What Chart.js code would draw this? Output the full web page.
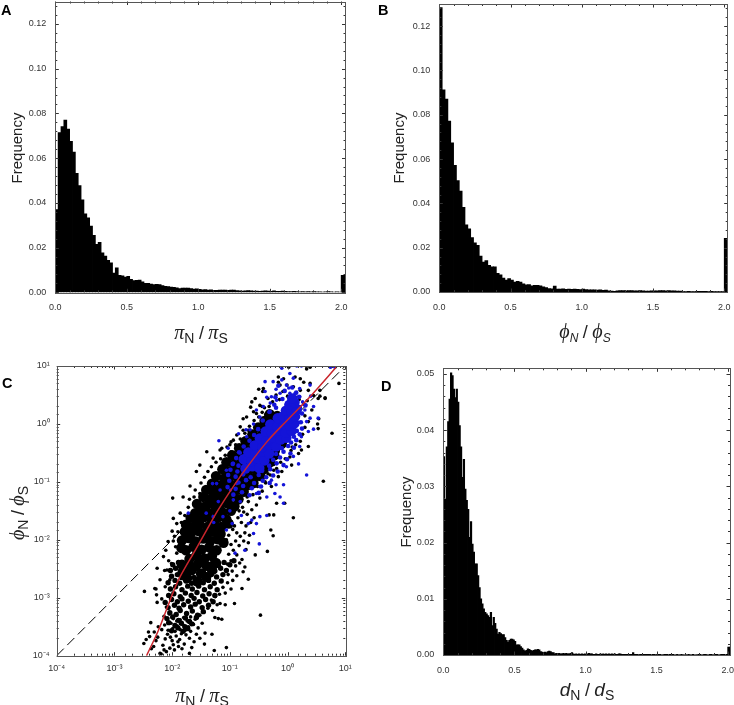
<!DOCTYPE html>
<html lang="en">
<head>
<meta charset="UTF-8">
<title>Frequency histograms and scatter</title>
<script src="https://cdn.jsdelivr.net/npm/chart.js"></script>
<style>
  body { margin: 0; background: #fff; font-family: 'Liberation Sans', sans-serif; color: #222; }
  #page { position: relative; width: 734px; height: 705px; overflow: hidden; }
  canvas { position: absolute; }
  .lab { position: absolute; white-space: nowrap; transform: translate(-50%, -50%); line-height: 1; }
  .panel { position: absolute; font-weight: bold; font-size: 14.5px; color: #000; line-height: 1; }
  .rot { transform: translate(-50%, -50%) rotate(-90deg); }
  .freq { font-size: 15px; }
  .gr { font-family: 'Liberation Serif', serif; font-style: italic; font-size: 20px; }
  .it { font-style: italic; font-size: 19px; }
  .sl { font-size: 18px; }
  sub { font-size: 14px; line-height: 0; vertical-align: -4px; }
  sub.i { font-style: italic; font-size: 12px; }
</style>
</head>
<body>
<div id="page">
  <canvas id="chartA" width="360" height="345" style="left:0;top:0"></canvas>
  <canvas id="chartB" width="364" height="345" style="left:370px;top:0"></canvas>
  <canvas id="chartC" width="360" height="355" style="left:0;top:350px"></canvas>
  <canvas id="chartD" width="364" height="350" style="left:370px;top:355px"></canvas>

  <div class="panel" style="left:1px;top:3px">A</div>
  <div class="panel" style="left:378px;top:3px">B</div>
  <div class="panel" style="left:2px;top:376px">C</div>
  <div class="panel" style="left:381px;top:379px">D</div>

  <div class="lab rot freq" style="left:16px;top:148px">Frequency</div>
  <div class="lab rot freq" style="left:398px;top:148px">Frequency</div>
  <div class="lab rot freq" style="left:405px;top:512px">Frequency</div>

  <div class="lab" style="left:201px;top:332px"><span class="gr">π</span><sub>N</sub> <span class="sl">/</span> <span class="gr">π</span><sub>S</sub></div>
  <div class="lab" style="left:585px;top:331px"><span class="gr">ϕ</span><sub class="i">N</sub> <span class="sl">/</span> <span class="gr">ϕ</span><sub class="i">S</sub></div>
  <div class="lab" style="left:202px;top:695px"><span class="gr">π</span><sub>N</sub> <span class="sl">/</span> <span class="gr">π</span><sub>S</sub></div>
  <div class="lab rot" style="left:17px;top:513px"><span class="gr">ϕ</span><sub>N</sub> <span class="sl">/</span> <span class="gr">ϕ</span><sub>S</sub></div>
  <div class="lab" style="left:587px;top:689px"><span class="it">d</span><sub>N</sub> <span class="sl">/</span> <span class="it">d</span><sub>S</sub></div>
</div>

<script>
// histogram A, bins of 0.02 from 0, last two entries are the >2 overflow bar
const histA = [
  .0370,.0714,.0741,.0770,.0729,.0675,.0626,.0532,.0477,.0413,
  .0351,.0333,.0296,.0254,.0214,.0223,.0176,.0162,.0143,.0131,
  .0086,.0109,.0076,.0073,.0068,.0071,.0058,.0052,.0053,.0054,
  .0047,.0040,.0040,.0036,.0034,.0035,.0034,.0030,.0026,.0025,
  .0023,.0022,.0020,.0016,.0019,.0018,.0018,.0016,.0014,.0015,
  .0013,.0011,.0012,.0010,.0011,.0009,.0009,.0010,.0010,.0010,
  .0009,.0010,.0010,.0007,.0006,.0005,.0006,.0007,.0006,.0005,
  .0005,.0004,.0005,.0006,.0005,.0004,.0006,.0004,.0004,.0005,
  .0004,.0003,.0003,.0004,.0003,.0002,.0003,.0002,.0003,.0002,
  .0003,.0002,.0002,.0001,.0002,.0003,.0002,.0001,.0002,.0001,
  .0075,.0075
];
const histB = [
  .1284,.0912,.0871,.0771,.0673,.0572,.0503,.0455,.0382,.0303,
  .0285,.0245,.0222,.0210,.0162,.0135,.0141,.0120,.0113,.0113,
  .0084,.0077,.0063,.0053,.0060,.0053,.0045,.0048,.0044,.0036,
  .0032,.0033,.0027,.0030,.0030,.0027,.0023,.0020,.0015,.0014,
  .0026,.0013,.0013,.0014,.0012,.0013,.0012,.0013,.0012,.0011,
  .0013,.0011,.0009,.0010,.0009,.0008,.0009,.0007,.0008,.0005,
  .0004,.0003,.0005,.0006,.0006,.0005,.0006,.0006,.0005,.0005,
  .0006,.0005,.0004,.0004,.0005,.0005,.0005,.0006,.0006,.0005,
  .0006,.0005,.0005,.0004,.0004,.0002,.0002,.0003,.0002,.0002,
  .0003,.0003,.0003,.0003,.0002,.0003,.0002,.0002,.0002,.0002,
  .0242,.0242
];
// histogram D, bins of 0.01
const histD = [
  .0353,.0277,.0370,.0415,.0455,.0502,.0497,.0473,.0458,.0473,
  .0450,.0408,.0370,.0316,.0348,.0295,.0275,.0259,.0209,.0237,
  .0197,.0183,.0162,.0162,.0141,.0120,.0100,.0091,.0082,.0076,
  .0073,.0070,.0067,.0076,.0052,.0067,.0056,.0046,.0037,.0040,
  .0038,.0036,.0036,.0031,.0026,.0023,.0026,.0028,.0028,.0027,
  .0024,.0018,.0018,.0018,.0015,.0012,.0009,.0007,.0008,.0011,
  .0010,.0008,.0007,.0008,.0009,.0009,.0010,.0009,.0006,.0005,
  .0004,.0005,.0004,.0006,.0007,.0006,.0004,.0004,.0002,.0003,
  .0002,.0003,.0002,.0002,.0003,.0002,.0003,.0002,.0002,.0003,
  .0004,.0002,.0001,.0002,.0001,.0002,.0001,.0002,.0001,.0002,
  .0001,.0002,.0003,.0002,.0002,.0001,.0001,.0002,.0001,.0001,
  .0002,.0001,.0002,.0001,.0002,.0001,.0002,.0001,.0002,.0001,
  .0002,.0001,.0001,.0002,.0002,.0001,.0001,.0001,.0001,.0001,
  .0001,.0001,.0001,.0004,.0001,.0001,.0001,0,.0001,.0001,
  .0001,.0001,.0001,.0001,.0001,.0001,0,.0001,.0001,0,
  .0001,.0001,.0001,0,0,.0001,.0001,.0001,0,.0001,
  0,.0001,0,0,.0001,0,0,.0001,0,0,
  0,0,.0001,0,0,.0001,0,0,0,.0001,
  .0001,0,0,.0001,.0001,0,0,.0001,.0001,0,
  0,.0001,.0001,0,0,.0001,.0001,.0001,0,.0001,
  .0014,.0014
];

const blackDots = [
  [-2.49,-3.79],[-2.21,-3.96],[-2.32,-3.84],[-2.19,-3.97],[-2.04,-3.87],[-1.89,-3.84],[-1.70,-3.96],[-1.70,-3.70],[-1.52,-3.70],[-1.43,-3.61],
  [-1.44,-3.80],[-1.27,-3.91],[-1.06,-3.86],[-1.31,-3.63],[-2.41,-3.59],[-2.39,-3.67],[-2.31,-3.59],[-2.45,-3.72],[-2.28,-3.74],[-2.36,-3.88],
  [-2.25,-3.68],[-2.16,-3.82],[-2.12,-3.71],[-2.08,-3.63],[-2.00,-3.74],[-1.96,-3.90],[-1.93,-3.66],[-1.87,-3.72],[-2.10,-3.93],[-1.84,-3.62],
  [-1.79,-3.80],[-1.98,-3.81],[-2.03,-3.68],[-1.90,-3.76],[-1.76,-3.64],[-2.14,-3.90],[-1.83,-3.88],[-1.62,-3.76],[-1.58,-3.63],[-1.66,-3.86],
  [-2.24,-3.50],[-2.37,-3.43],[-2.18,-3.55],[-2.13,-3.47],[-2.07,-3.56],[-2.02,-3.44],[-1.99,-3.53],[-1.95,-3.58],[-1.91,-3.49],[-1.86,-3.55],
  [-1.81,-3.47],[-1.77,-3.56],[-1.72,-3.50],[-1.68,-3.58],[-1.63,-3.46],[-1.55,-3.52],[-1.48,-3.44],[-1.26,-3.34],[-1.14,-3.37],[-1.20,-3.36],
  [-2.26,-3.08],[-2.48,-2.89],[-2.28,-2.85],[-2.26,-2.49],[-2.06,-2.36],[-2.13,-2.53],[-2.21,-2.69],[-2.30,-2.84],[-2.27,-2.95],[-2.12,-2.81],
  [-2.04,-2.69],[-2.01,-2.41],[-1.92,-2.23],[-1.95,-2.49],[-2.11,-2.18],[-2.07,-2.03],[-2.15,-2.29],[-2.09,-2.52],[-2.18,-3.02],[-2.10,-3.16],
  [-2.05,-3.28],[-2.14,-3.32],[-1.98,-3.36],[-1.92,-3.40],[-1.86,-3.38],[-1.80,-3.34],[-1.74,-3.40],[-1.68,-3.33],[-1.60,-3.37],[-1.52,-3.30],
  [-1.45,-3.25],[-1.38,-3.18],[-1.30,-3.22],[-1.22,-3.12],[-1.17,-3.10],[-1.08,-3.12],[-.92,-3.10],[-1.32,-3.04],[-1.25,-2.98],[-1.18,-2.94],
  [-1.08,-2.92],[-.98,-2.85],[-.79,-2.84],[-.68,-2.68],[-1.12,-2.82],[-1.04,-2.74],[-.95,-2.70],[-.88,-2.62],[-.96,-2.54],[-1.03,-2.60],
  [-.77,-2.55],[-.74,-2.47],[-.79,-2.34],[-.56,-2.26],[-.72,-2.17],[-.83,-2.40],[-.90,-2.45],[-.98,-2.36],[-1.04,-2.42],[-.88,-2.26],
  [-.94,-2.18],[-1.02,-2.25],[-.84,-2.10],[-.76,-2.02],[-.68,-2.05],[-.90,-2.02],[-.98,-2.08],[-.82,-1.94],[-.74,-1.88],[-.66,-1.92],
  [-.88,-1.88],[-.95,-1.82],[-.72,-1.76],[-.80,-1.70],[-.64,-1.70],[-.86,-1.62],[-.58,-1.62],[-.70,-1.56],[-.62,-1.48],[-.78,-1.44],
  [-.54,-1.40],[-.68,-1.34],[-.48,-1.28],[-.60,-1.22],[-.44,-1.16],[-.52,-1.08],[-.38,-1.02],[-.46,-.94],[-.30,-.88],[-.36,-.78],
  [-.24,-.70],[-.30,-.60],[-.18,-.52],[-.22,-.42],[-.10,-.38],[-.06,-.30],[.02,-.24],[.08,-.40],[.07,-.71],[.04,-.57],
  [-.35,-2.20],[-.47,-3.30],[-.25,-1.93],[-.29,-1.83],[-.24,-1.57],[-.32,-1.57],[-.19,-1.37],[-.05,-1.37],[.10,-1.62],[.62,-.99],
  [.77,-.16],[.52,.0],[.54,.09],[.89,.70],[.45,.49],[.56,.48],[.65,.44],[.36,.58],[.28,.72],[.22,.78],
  [.13,.81],[.39,.98],[.02,.98],[-.07,.78],[-.16,.72],[-.42,.61],[-.5,.60],[-.43,.56],[-.56,.44],[-.64,.29],
  [-.77,.09],[-.71,.12],[-.59,.21],[-.48,.32],[-.44,.30],[-.40,.28],[-1.05,-.40],[-1.14,-.42],[-.98,-.31],[-.94,-.28],
  [-.77,-.11],[-.68,-.11],[-.16,.81],[-.13,.67],[-.01,.67],[.10,.64],[.22,.58],[.39,.70],[.33,.95],[.53,.44],
  [.65,.45],[.42,.24],[.56,.58],[.53,-.08],[.24,-.45],[.19,-.51],[.36,-.39],[-.16,-.91],[-.10,-.82],[-.19,-.77],
  [-.39,-1.00],[-.28,-1.08],[-1.99,-1.28],[-1.69,-1.07],[-1.40,-.48],[-1.98,-1.63],[-1.92,-1.72],[-2.00,-1.85],[-1.86,-1.54],[-1.81,-1.26],
  [-1.58,-.82],[-1.52,-.71],[-1.29,-.59],[-1.17,-.45],[-1.00,-.36],[-.82,-.05],[-.62,.38],[-.88,-.19],[-.54,.18],[-.34,.44],
  [-1.98,-2.02],[-1.94,-2.12],[-1.96,-1.94],[-1.90,-1.86],[-1.84,-1.70],[-1.78,-1.58],[-1.72,-1.44],[-1.70,-1.30],[-1.62,-1.26],[-1.60,-1.14],
  [-1.52,-1.20],[-1.50,-1.02],[-1.44,-.92],[-1.38,-.82],[-1.32,-.74],[-1.24,-.66],[-1.16,-.60],[-1.08,-.54],[-.98,-.48],[-.90,-.36],
  [-.82,-.26],[-.74,-.16],[-.66,-.04],[-.58,.06],[-.50,.12],[-.44,.20],[-.38,.16],[-.32,.30],[-.26,.38],[-.20,.50],
  [-.14,.42],[-.08,.56],[.00,.48],[.06,.38],[.14,.46],[.20,.42],[.28,.34],[.34,.40],[.30,.14],[.36,.04],
  [.30,-.06],[.26,-.18],[.22,-.30],[.14,-.36],[.06,-.46],[-.04,-.60],[-.12,-.66],[-.24,-.80],[-.34,-.86],[-.42,-.92],
  [-.92,-1.76],[-.98,-1.68],[-1.02,-1.92],[-1.06,-2.00],[-.76,-1.52],[-.84,-1.50],[-.90,-1.38],[-.70,-1.26],[-.76,-1.16],[-.62,-1.10],
  [-.54,-.98],[-.58,-.86],[-.44,-.78],[-.40,-.66],[-.32,-.52],[-.26,-.44],[-.14,-.30]
];
// speckled lower part of the cloud, clusters of a few overlapping points
const blackClusters = [
  [-2.01,-3.57],[-1.90,-3.52],[-1.81,-3.58],[-1.73,-3.53],
  [-2.06,-3.43],[-1.95,-3.48],[-1.84,-3.44],[-1.78,-3.50],[-1.66,-3.45],
  [-2.09,-3.36],[-1.99,-3.33],[-1.89,-3.39],[-1.77,-3.35],[-1.70,-3.41],[-1.58,-3.34],
  [-2.04,-3.26],[-1.93,-3.29],[-1.86,-3.22],[-1.75,-3.27],[-1.65,-3.23],[-1.56,-3.30],[-1.46,-3.24],
  [-2.07,-3.17],[-1.96,-3.13],[-1.88,-3.18],[-1.80,-3.12],[-1.68,-3.16],[-1.60,-3.11],[-1.48,-3.17],[-1.37,-3.13],
  [-2.12,-3.08],[-2.01,-3.03],[-1.91,-3.07],[-1.83,-3.02],[-1.72,-3.06],[-1.62,-3.01],[-1.53,-3.07],[-1.42,-3.03],[-1.29,-3.07],
  [-2.06,-2.96],[-1.97,-2.93],[-1.86,-2.98],[-1.77,-2.92],[-1.67,-2.96],[-1.57,-2.91],[-1.47,-2.97],[-1.36,-2.93],[-1.26,-2.96],
  [-2.03,-2.85],[-1.94,-2.81],[-1.83,-2.86],[-1.73,-2.80],[-1.65,-2.85],[-1.54,-2.80],[-1.44,-2.86],[-1.34,-2.81],[-1.22,-2.86],
  [-2.07,-2.74],[-1.95,-2.70],[-1.87,-2.75],[-1.76,-2.71],[-1.66,-2.75],[-1.56,-2.70],[-1.46,-2.74],[-1.37,-2.70],[-1.27,-2.75],[-1.15,-2.71],
  [-2.01,-2.63],[-1.91,-2.60],[-1.84,-2.65],[-1.72,-2.61],[-1.62,-2.65],[-1.52,-2.60],[-1.44,-2.64],[-1.32,-2.60],[-1.23,-2.64],[-1.12,-2.60],
  [-2.03,-2.53],[-1.94,-2.49],[-1.86,-2.54],[-1.75,-2.50],[-1.65,-2.54],[-1.56,-2.50],[-1.46,-2.54],[-1.35,-2.50],[-1.26,-2.54],[-1.16,-2.49],[-1.06,-2.53],
  [-1.99,-2.43],[-1.89,-2.39],[-1.80,-2.44],[-1.70,-2.40],[-1.60,-2.44],[-1.50,-2.39],[-1.41,-2.44],[-1.30,-2.40],[-1.20,-2.44],[-1.10,-2.39],[-1.00,-2.43],[-.93,-2.36]
];
// larger marks standing in for the part of the cloud too dense to read point by point
const blackCore = [
  [-1.74,-2.66],[-1.56,-2.72],[-1.41,-2.64],
  [-1.81,-2.56],[-1.66,-2.52],[-1.50,-2.58],[-1.31,-2.52],
  [-1.83,-2.43],[-1.68,-2.46],[-1.55,-2.41],[-1.40,-2.45],[-1.24,-2.40],
  [-1.70,-2.33],[-1.58,-2.27],[-1.44,-2.32],[-1.31,-2.28],
  [-1.84,-2.14],[-1.76,-2.18],[-1.63,-2.12],[-1.49,-2.17],[-1.36,-2.13],[-1.23,-2.18],
  [-1.83,-2.01],[-1.71,-1.97],[-1.59,-2.03],[-1.46,-1.98],[-1.34,-2.02],[-1.21,-1.99],[-1.11,-2.05],
  [-1.78,-1.86],[-1.68,-1.90],[-1.54,-1.85],[-1.41,-1.90],[-1.29,-1.86],[-1.16,-1.90],
  [-1.76,-1.74],[-1.64,-1.78],[-1.53,-1.73],[-1.39,-1.78],[-1.26,-1.74],[-1.15,-1.78],[-1.02,-1.72],
  [-1.68,-1.62],[-1.57,-1.66],[-1.45,-1.61],[-1.32,-1.65],[-1.20,-1.61],[-1.06,-1.65],
  [-1.60,-1.54],[-1.50,-1.49],[-1.38,-1.53],[-1.25,-1.49],[-1.12,-1.53],[-.98,-1.50],
  [-1.57,-1.38],[-1.42,-1.42],[-1.30,-1.37],[-1.18,-1.41],[-1.05,-1.37],[-.92,-1.42],
  [-1.46,-1.26],[-1.35,-1.30],[-1.22,-1.26],[-1.10,-1.30],[-.98,-1.26],[-.85,-1.30],
  [-1.41,-1.14],[-1.28,-1.18],[-1.15,-1.14],[-1.03,-1.18],[-.90,-1.14],[-.76,-1.17],
  [-1.31,-1.03],[-1.20,-1.06],[-1.08,-1.02],[-.95,-1.06],[-.82,-1.02],[-.70,-1.06],[-.59,-1.02],
  [-1.24,-.90],[-1.10,-.94],[-.98,-.90],[-.85,-.94],[-.73,-.90],[-.60,-.94],[-.47,-.90],
  [-1.13,-.78],[-1.02,-.82],[-.90,-.78],[-.78,-.82],[-.65,-.78],[-.52,-.82],[-.41,-.78],
  [-1.06,-.66],[-.93,-.70],[-.80,-.66],[-.68,-.70],[-.55,-.66],[-.42,-.70],[-.30,-.66],
  [-.96,-.54],[-.85,-.58],[-.72,-.54],[-.60,-.58],[-.48,-.54],[-.35,-.58],[-.23,-.54],
  [-.84,-.42],[-.72,-.46],[-.60,-.42],[-.47,-.46],[-.35,-.42],[-.22,-.46],
  [-.73,-.30],[-.60,-.34],[-.47,-.30],[-.35,-.34],[-.22,-.30],[-.10,-.34],
  [-.61,-.18],[-.48,-.22],[-.35,-.18],[-.22,-.22],[-.10,-.18],
  [-.51,-.06],[-.38,-.10],[-.25,-.06],[-.12,-.10],[.00,-.06],
  [-.40,.05],[-.27,.02],[-.13,.06],
  [-.31,.17],[-.18,.14]
];
const blueDots = [
  [-1.19,-.29],[-1.03,-.42],[-.72,-.10],[-.65,-.10],[-1.72,-1.54],[-1.41,-1.54],[-1.29,-1.60],[-1.06,-1.83],[-.91,-2.23],[-.74,-2.18],
  [-.68,-1.72],[-.59,-1.89],[-.49,-2.07],[-.54,-1.72],[-.62,-1.66],[-.48,-1.60],[-.36,-1.58],[-.07,-1.37],[-.13,-1.26],[-.22,-1.20],
  [-.36,-1.26],[.33,-.88],[.19,-.69],[-.07,-1.05],[-.20,-1.05],[-.94,-1.31],[-.82,-1.34],[-.88,-1.03],[-.99,-1.14],[-1.17,-1.14],
  [-1.30,-1.03],[.45,-.09],[.53,.10],[.33,.04],[.24,-.22],[.30,.24],[.39,.67],[.76,.99],[.24,1.0],[.16,1.0],
  [-.10,.96],[.04,.87],[.10,.79],[-.39,.73],[-.25,.73],[-.10,.76],[-.02,.67],[.21,.61],[-.39,.56],[-.28,.47],
  [-.13,.53],[-.36,.46],[-.54,.24],[-.42,.30],[-.30,.36],[-.19,.41],[.04,.53],[.13,.53],[.21,.47],[-.48,.12],
  [-.59,.00],[-.71,-.22],[-.82,-.50],[-.94,-.68],[-1.06,-.80],[-1.23,-1.03],[-.54,-1.20],[-.48,-1.08],[-.28,-.97],[-.02,-.74],
  [.10,-.56],[.21,-.39],[.36,-.13],[.39,.10],[-.85,-.17],[.26,.38],[.16,.34],[.02,.62],[-.20,.60],[-.32,.20],
  [-1.12,-1.60],[-1.00,-1.50],[-.80,-1.58],[-1.20,-1.34],[-1.28,-1.70],[-.96,-1.72],[.74,.98],[.82,.98],[.45,.30],[.40,.48]
];
const blueClusters = [
  [-.94,-1.22],[-.79,-1.18],[-.66,-1.23],[-.50,-1.19],
  [-1.04,-1.09],[-.90,-1.12],[-.77,-1.07],[-.62,-1.11],[-.46,-1.08],
  [-1.01,-.98],[-.85,-1.01],[-.72,-.97],[-.58,-1.02],[-.43,-.98],[-.31,-1.02],
  [-1.03,-.88],[-.90,-.91],[-.77,-.87],[-.64,-.92],[-.50,-.88],[-.37,-.92],[-.25,-.89],
  [-.99,-.79],[-.87,-.82],[-.44,-.81],[-.30,-.78],[-.17,-.82],
  [-.95,-.69],[-.85,-.72],[-.32,-.72],[-.19,-.68],[-.07,-.71],
  [-.89,-.59],[-.25,-.62],[-.13,-.58],[-.01,-.61],
  [-.84,-.49],[-.20,-.52],[-.07,-.48],[.05,-.51],
  [-.76,-.39],[-.10,-.42],[.01,-.38],[.11,-.41],
  [-.66,-.29],[.06,-.32],[.15,-.28],
  [-.58,-.19],[.11,-.22],[.21,-.18],
  [-.51,-.09],[.16,-.12],[.25,-.08],
  [-.43,.06],[.23,.03],
  [-.31,.21],[.25,.18],[-.20,.28],
  [-.23,.33],[.21,.29],[.31,.32],
  [-.21,.46],[-.09,.43],[.20,.47],
  [-.05,.57],[.15,.54],
  [-.16,.66],[.08,.63]
];
const blueCore = [
  [-.73,-.77],[-.61,-.73],[-.49,-.76],
  [-.76,-.61],[-.63,-.64],[-.52,-.60],[-.40,-.63],
  [-.68,-.49],[-.56,-.52],[-.44,-.48],[-.32,-.51],
  [-.57,-.37],[-.44,-.40],[-.32,-.36],[-.20,-.39],
  [-.48,-.25],[-.36,-.28],[-.24,-.24],[-.12,-.27],[-.02,-.24],
  [-.38,-.13],[-.27,-.16],[-.15,-.12],[-.03,-.15],[.07,-.12],
  [-.30,-.01],[-.18,-.04],[-.07,.00],[.04,-.03],[.12,.01],
  [-.17,.10],[-.08,.13],[.03,.09],[.13,.13],
  [-.03,.23],[.07,.20],[.16,.25],
  [.03,.33],[.12,.37],[.08,.44]
];
// fitted curve and the y = x reference line
const redCurvePi  = [.0036,.0058,.0089,.0129,.0251,.0398,.0631,.151,.437,.977,2.45,7.24];
const redCurvePhi = [.0001,.000275,.00083,.00204,.0066,.0148,.0331,.123,.49,1.15,2.95,10];
const diagonal = [.0001, 10];

const logTickLabels = ['10⁻⁴','10⁻³','10⁻²','10⁻¹','10⁰','10¹'];

// inward ticks and a frame on every side, taken from the scale's own ticks
const frame = {
  id: 'frame',
  afterDatasetsDraw(chart, args, opts) {
    const { ctx, chartArea: a, scales } = chart;
    ctx.save();
    ctx.strokeStyle = '#333';
    ctx.lineWidth = 1;
    ctx.beginPath();
    for (const t of scales.x.ticks) {
      const px = Math.round(scales.x.getPixelForValue(t.value)) + .5;
      const len = opts.isMajorX(t.value) ? 3.5 : 2;
      ctx.moveTo(px, a.bottom); ctx.lineTo(px, a.bottom - len);
      ctx.moveTo(px, a.top); ctx.lineTo(px, a.top + len);
    }
    for (const t of scales.y.ticks) {
      const py = Math.round(scales.y.getPixelForValue(t.value)) + .5;
      const len = opts.isMajorY(t.value) ? 3.5 : 2;
      ctx.moveTo(a.left, py); ctx.lineTo(a.left + len, py);
      ctx.moveTo(a.right, py); ctx.lineTo(a.right - len, py);
    }
    ctx.stroke();
    ctx.strokeStyle = '#555';
    ctx.strokeRect(Math.round(a.left) + .5, Math.round(a.top) + .5, Math.round(a.right - a.left), Math.round(a.bottom - a.top));
    ctx.restore();
  }
};

const tickFont = { family: "'Liberation Sans', sans-serif", size: 9 };
const nearStep = (v, step) => Math.abs(v / step - Math.round(v / step)) < 1e-6;
// label overhang must not shrink the plot area, the positions are fixed below
const fitX = h => s => { s.height = h; s.paddingLeft = 0; s.paddingRight = 0; };
const fitY = w => s => { s.width = w; s.paddingTop = 0; s.paddingBottom = 0; };

function histogram(id, values, binWidth, box, yMax, yMinor, yMajor, xMax) {
  const points = values.map((v, i) => ({ x: (i + .5) * binWidth, y: v }));
  return new Chart(document.getElementById(id), {
    type: 'bar',
    data: { datasets: [{ data: points, backgroundColor: '#000', barPercentage: 1, categoryPercentage: 1, borderWidth: 0, inflateAmount: .4 }] },
    plugins: [frame],
    options: {
      responsive: false,
      animation: false,
      layout: { padding: { top: box.top, right: box.right, left: 0, bottom: 0 } },
      plugins: {
        legend: { display: false }, tooltip: { enabled: false },
        frame: { isMajorX: v => nearStep(v, .5), isMajorY: v => nearStep(v, yMajor) }
      },
      scales: {
        x: {
          type: 'linear', min: 0, max: xMax, offset: false,
          grid: { display: false, offset: false, drawTicks: false }, border: { display: false },
          afterFit: fitX(box.xHeight),
          ticks: {
            stepSize: .1, includeBounds: false, autoSkip: false, maxRotation: 0, padding: 10,
            color: '#333', font: tickFont,
            callback: v => nearStep(v, .5) ? v.toFixed(1) : ''
          }
        },
        y: {
          min: 0, max: yMax,
          grid: { display: false, drawTicks: false }, border: { display: false },
          afterFit: fitY(box.yWidth),
          ticks: {
            stepSize: yMinor, includeBounds: false, autoSkip: false, padding: 9,
            color: '#333', font: tickFont,
            callback: v => nearStep(v, yMajor) ? v.toFixed(2) : ''
          }
        }
      }
    }
  });
}

histogram('chartA', histA, .02, { top: 1.5, right: 14.5, yWidth: 55.3, xHeight: 52.7 }, .13, .004, .02, 2.03);
histogram('chartB', histB, .02, { top: 4, right: 6.3, yWidth: 69.3, xHeight: 53 }, .13, .004, .02, 2.024);
histogram('chartD', histD, .01, { top: 13.3, right: 4, yWidth: 73.3, xHeight: 50 }, .051, .002, .01, 2.016);

const fromLog = pts => pts.map(([lx, ly]) => ({ x: 10 ** lx, y: 10 ** ly }));
const isDecade = v => nearStep(Math.log10(v), 1);
const logLabel = v => isDecade(v) ? logTickLabels[Math.round(Math.log10(v)) + 4] : '';

new Chart(document.getElementById('chartC'), {
  type: 'scatter',
  data: {
    datasets: [
      { data: diagonal.map(v => ({ x: v, y: v })), showLine: true, borderColor: '#000', borderWidth: 1, borderDash: [10, 5], pointRadius: 0, order: 6 },
      { data: fromLog(blackCore), backgroundColor: '#000', borderWidth: 0, pointRadius: 5.2, order: 5 },
      { data: fromLog(blackClusters), backgroundColor: '#000', borderWidth: 0, pointRadius: 2.7, order: 5 },
      { data: fromLog(blackDots), backgroundColor: '#000', borderWidth: 0, pointRadius: 1.8, order: 5 },
      { data: fromLog(blueClusters), backgroundColor: '#1414d8', borderWidth: 0, pointRadius: 2.3, order: 4 },
      { data: fromLog(blueCore), backgroundColor: '#1414d8', borderWidth: 0, pointRadius: 5.2, order: 3 },
      { data: fromLog(blueDots), backgroundColor: '#1414d8', borderWidth: 0, pointRadius: 1.8, order: 2 },
      { data: redCurvePi.map((v, i) => ({ x: v, y: redCurvePhi[i] })), showLine: true, borderColor: '#c9252c', borderWidth: 1.5, pointRadius: 0, tension: .3, order: 1 }
    ]
  },
  plugins: [frame],
  options: {
    responsive: false,
    animation: false,
    layout: { padding: { top: 16, right: 14.7, left: 0, bottom: 0 } },
    plugins: {
      legend: { display: false }, tooltip: { enabled: false },
      frame: { isMajorX: isDecade, isMajorY: isDecade }
    },
    scales: {
      x: {
        type: 'logarithmic', min: 1e-4, max: 10,
        grid: { display: false, drawTicks: false }, border: { display: false },
        afterFit: fitX(49.3),
        ticks: { autoSkip: false, maxRotation: 0, padding: 7, color: '#333', font: tickFont, callback: logLabel }
      },
      y: {
        type: 'logarithmic', min: 1e-4, max: 10,
        grid: { display: false, drawTicks: false }, border: { display: false },
        afterFit: fitY(56.7),
        ticks: { autoSkip: false, padding: 7, color: '#333', font: tickFont, callback: logLabel }
      }
    }
  }
});
</script>
</body>
</html>
